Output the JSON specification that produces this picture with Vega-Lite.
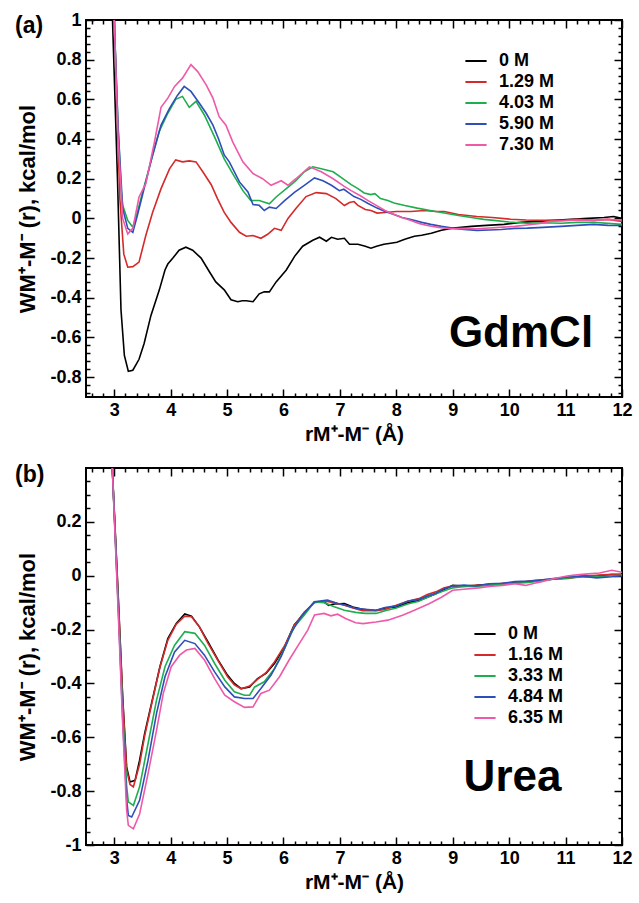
{
  "$schema": "https://vega.github.io/schema/vega-lite/v6.json",
  "background": "white",
  "padding": {"left": 14, "top": 10, "right": 0, "bottom": 0},
  "config": {
    "font": "Liberation Sans",
    "view": {"stroke": "black", "strokeWidth": 2},
    "axis": {"labelFont": "Liberation Sans", "labelFontWeight": "bold", "labelColor": "black", "labelFontSize": 18, "titleFont": "Liberation Sans", "titleFontWeight": "bold", "titleColor": "black", "titleFontSize": 21, "tickColor": "black", "tickWidth": 1.5, "grid": false, "domain": false, "labelFlush": false, "labelOverlap": false},
    "legend": {"orient": "none", "symbolType": "stroke", "symbolStrokeWidth": 2, "symbolSize": 450, "labelFont": "Liberation Sans", "labelFontSize": 18, "labelFontWeight": "bold", "labelColor": "black", "labelOffset": 11, "rowPadding": -1.7, "padding": 0, "title": null}
  },
  "datasets": {
    "a": [
      {"s":"0 M","r":2.92,"w":1.5},{"s":"0 M","r":2.97,"w":1.0},{"s":"0 M","r":3.06,"w":0.18},{"s":"0 M","r":3.12,"w":-0.46},{"s":"0 M","r":3.18,"w":-0.69},{"s":"0 M","r":3.25,"w":-0.77},{"s":"0 M","r":3.33,"w":-0.765},{"s":"0 M","r":3.44,"w":-0.71},{"s":"0 M","r":3.53,"w":-0.63},{"s":"0 M","r":3.65,"w":-0.49},{"s":"0 M","r":3.8,"w":-0.36},{"s":"0 M","r":3.9,"w":-0.26},{"s":"0 M","r":3.95,"w":-0.23},{"s":"0 M","r":4.04,"w":-0.2},{"s":"0 M","r":4.15,"w":-0.16},{"s":"0 M","r":4.27,"w":-0.145},{"s":"0 M","r":4.39,"w":-0.16},{"s":"0 M","r":4.54,"w":-0.2},{"s":"0 M","r":4.69,"w":-0.27},{"s":"0 M","r":4.8,"w":-0.32},{"s":"0 M","r":4.95,"w":-0.36},{"s":"0 M","r":5.07,"w":-0.41},{"s":"0 M","r":5.19,"w":-0.42},{"s":"0 M","r":5.27,"w":-0.415},{"s":"0 M","r":5.34,"w":-0.415},{"s":"0 M","r":5.46,"w":-0.42},{"s":"0 M","r":5.57,"w":-0.38},{"s":"0 M","r":5.66,"w":-0.37},{"s":"0 M","r":5.75,"w":-0.37},{"s":"0 M","r":5.87,"w":-0.32},{"s":"0 M","r":6.05,"w":-0.26},{"s":"0 M","r":6.2,"w":-0.19},{"s":"0 M","r":6.34,"w":-0.14},{"s":"0 M","r":6.52,"w":-0.11},{"s":"0 M","r":6.64,"w":-0.095},{"s":"0 M","r":6.76,"w":-0.115},{"s":"0 M","r":6.85,"w":-0.095},{"s":"0 M","r":6.96,"w":-0.105},{"s":"0 M","r":7.08,"w":-0.1},{"s":"0 M","r":7.17,"w":-0.13},{"s":"0 M","r":7.32,"w":-0.13},{"s":"0 M","r":7.45,"w":-0.14},{"s":"0 M","r":7.55,"w":-0.15},{"s":"0 M","r":7.65,"w":-0.14},{"s":"0 M","r":7.78,"w":-0.13},{"s":"0 M","r":7.9,"w":-0.125},{"s":"0 M","r":8.01,"w":-0.12},{"s":"0 M","r":8.15,"w":-0.105},{"s":"0 M","r":8.32,"w":-0.09},{"s":"0 M","r":8.45,"w":-0.085},{"s":"0 M","r":8.62,"w":-0.075},{"s":"0 M","r":8.8,"w":-0.06},{"s":"0 M","r":8.97,"w":-0.05},{"s":"0 M","r":9.15,"w":-0.045},{"s":"0 M","r":9.33,"w":-0.04},{"s":"0 M","r":9.6,"w":-0.035},{"s":"0 M","r":9.91,"w":-0.03},{"s":"0 M","r":10.2,"w":-0.02},{"s":"0 M","r":10.5,"w":-0.015},{"s":"0 M","r":10.8,"w":-0.01},{"s":"0 M","r":11.1,"w":-0.005},{"s":"0 M","r":11.4,"w":0.0},{"s":"0 M","r":11.68,"w":0.005},{"s":"0 M","r":11.85,"w":0.01},{"s":"0 M","r":12.0,"w":0.0},
      {"s":"1.29 M","r":2.92,"w":1.6},{"s":"1.29 M","r":3.0,"w":1.0},{"s":"1.29 M","r":3.1,"w":0.1},{"s":"1.29 M","r":3.17,"w":-0.18},{"s":"1.29 M","r":3.24,"w":-0.246},{"s":"1.29 M","r":3.33,"w":-0.243},{"s":"1.29 M","r":3.44,"w":-0.22},{"s":"1.29 M","r":3.56,"w":-0.086},{"s":"1.29 M","r":3.68,"w":0.03},{"s":"1.29 M","r":3.83,"w":0.15},{"s":"1.29 M","r":3.98,"w":0.25},{"s":"1.29 M","r":4.09,"w":0.295},{"s":"1.29 M","r":4.21,"w":0.285},{"s":"1.29 M","r":4.33,"w":0.29},{"s":"1.29 M","r":4.45,"w":0.285},{"s":"1.29 M","r":4.57,"w":0.235},{"s":"1.29 M","r":4.72,"w":0.17},{"s":"1.29 M","r":4.83,"w":0.1},{"s":"1.29 M","r":4.95,"w":0.03},{"s":"1.29 M","r":5.07,"w":-0.02},{"s":"1.29 M","r":5.22,"w":-0.07},{"s":"1.29 M","r":5.34,"w":-0.09},{"s":"1.29 M","r":5.46,"w":-0.086},{"s":"1.29 M","r":5.6,"w":-0.1},{"s":"1.29 M","r":5.72,"w":-0.08},{"s":"1.29 M","r":5.84,"w":-0.05},{"s":"1.29 M","r":5.96,"w":-0.06},{"s":"1.29 M","r":6.08,"w":0.0},{"s":"1.29 M","r":6.22,"w":0.05},{"s":"1.29 M","r":6.4,"w":0.11},{"s":"1.29 M","r":6.58,"w":0.13},{"s":"1.29 M","r":6.76,"w":0.125},{"s":"1.29 M","r":6.93,"w":0.1},{"s":"1.29 M","r":7.08,"w":0.065},{"s":"1.29 M","r":7.17,"w":0.08},{"s":"1.29 M","r":7.25,"w":0.085},{"s":"1.29 M","r":7.32,"w":0.066},{"s":"1.29 M","r":7.45,"w":0.045},{"s":"1.29 M","r":7.55,"w":0.04},{"s":"1.29 M","r":7.66,"w":0.027},{"s":"1.29 M","r":7.8,"w":0.03},{"s":"1.29 M","r":8.0,"w":0.035},{"s":"1.29 M","r":8.26,"w":0.035},{"s":"1.29 M","r":8.5,"w":0.04},{"s":"1.29 M","r":8.7,"w":0.035},{"s":"1.29 M","r":8.85,"w":0.035},{"s":"1.29 M","r":9.1,"w":0.02},{"s":"1.29 M","r":9.43,"w":0.01},{"s":"1.29 M","r":9.7,"w":0.005},{"s":"1.29 M","r":10.03,"w":-0.004},{"s":"1.29 M","r":10.3,"w":-0.008},{"s":"1.29 M","r":10.62,"w":-0.01},{"s":"1.29 M","r":10.9,"w":-0.01},{"s":"1.29 M","r":11.2,"w":-0.005},{"s":"1.29 M","r":11.5,"w":-0.01},{"s":"1.29 M","r":11.75,"w":-0.005},{"s":"1.29 M","r":12.0,"w":-0.015},
      {"s":"4.03 M","r":2.92,"w":1.8},{"s":"4.03 M","r":3.0,"w":1.0},{"s":"4.03 M","r":3.06,"w":0.52},{"s":"4.03 M","r":3.12,"w":0.15},{"s":"4.03 M","r":3.15,"w":0.066},{"s":"4.03 M","r":3.24,"w":-0.01},{"s":"4.03 M","r":3.33,"w":-0.044},{"s":"4.03 M","r":3.41,"w":0.03},{"s":"4.03 M","r":3.5,"w":0.13},{"s":"4.03 M","r":3.65,"w":0.285},{"s":"4.03 M","r":3.8,"w":0.44},{"s":"4.03 M","r":3.95,"w":0.53},{"s":"4.03 M","r":4.09,"w":0.6},{"s":"4.03 M","r":4.21,"w":0.615},{"s":"4.03 M","r":4.33,"w":0.56},{"s":"4.03 M","r":4.45,"w":0.59},{"s":"4.03 M","r":4.6,"w":0.52},{"s":"4.03 M","r":4.78,"w":0.41},{"s":"4.03 M","r":4.95,"w":0.3},{"s":"4.03 M","r":5.1,"w":0.226},{"s":"4.03 M","r":5.28,"w":0.14},{"s":"4.03 M","r":5.42,"w":0.09},{"s":"4.03 M","r":5.57,"w":0.09},{"s":"4.03 M","r":5.75,"w":0.074},{"s":"4.03 M","r":5.87,"w":0.108},{"s":"4.03 M","r":6.05,"w":0.15},{"s":"4.03 M","r":6.22,"w":0.19},{"s":"4.03 M","r":6.37,"w":0.235},{"s":"4.03 M","r":6.52,"w":0.26},{"s":"4.03 M","r":6.67,"w":0.25},{"s":"4.03 M","r":6.88,"w":0.235},{"s":"4.03 M","r":7.07,"w":0.197},{"s":"4.03 M","r":7.2,"w":0.17},{"s":"4.03 M","r":7.32,"w":0.15},{"s":"4.03 M","r":7.43,"w":0.128},{"s":"4.03 M","r":7.55,"w":0.12},{"s":"4.03 M","r":7.62,"w":0.125},{"s":"4.03 M","r":7.72,"w":0.1},{"s":"4.03 M","r":7.85,"w":0.09},{"s":"4.03 M","r":7.96,"w":0.078},{"s":"4.03 M","r":8.15,"w":0.065},{"s":"4.03 M","r":8.37,"w":0.052},{"s":"4.03 M","r":8.6,"w":0.04},{"s":"4.03 M","r":8.85,"w":0.027},{"s":"4.03 M","r":9.1,"w":0.015},{"s":"4.03 M","r":9.33,"w":0.005},{"s":"4.03 M","r":9.55,"w":-0.005},{"s":"4.03 M","r":9.73,"w":-0.01},{"s":"4.03 M","r":10.0,"w":-0.018},{"s":"4.03 M","r":10.32,"w":-0.024},{"s":"4.03 M","r":10.6,"w":-0.022},{"s":"4.03 M","r":10.92,"w":-0.024},{"s":"4.03 M","r":11.2,"w":-0.02},{"s":"4.03 M","r":11.5,"w":-0.019},{"s":"4.03 M","r":11.75,"w":-0.025},{"s":"4.03 M","r":12.0,"w":-0.03},
      {"s":"5.90 M","r":2.92,"w":1.8},{"s":"5.90 M","r":3.0,"w":1.0},{"s":"5.90 M","r":3.07,"w":0.45},{"s":"5.90 M","r":3.15,"w":0.05},{"s":"5.90 M","r":3.24,"w":-0.05},{"s":"5.90 M","r":3.33,"w":-0.07},{"s":"5.90 M","r":3.41,"w":0.015},{"s":"5.90 M","r":3.53,"w":0.15},{"s":"5.90 M","r":3.68,"w":0.32},{"s":"5.90 M","r":3.83,"w":0.47},{"s":"5.90 M","r":3.98,"w":0.555},{"s":"5.90 M","r":4.12,"w":0.62},{"s":"5.90 M","r":4.24,"w":0.665},{"s":"5.90 M","r":4.36,"w":0.64},{"s":"5.90 M","r":4.51,"w":0.58},{"s":"5.90 M","r":4.63,"w":0.53},{"s":"5.90 M","r":4.75,"w":0.47},{"s":"5.90 M","r":4.85,"w":0.4},{"s":"5.90 M","r":4.95,"w":0.32},{"s":"5.90 M","r":5.04,"w":0.285},{"s":"5.90 M","r":5.22,"w":0.184},{"s":"5.90 M","r":5.37,"w":0.133},{"s":"5.90 M","r":5.46,"w":0.07},{"s":"5.90 M","r":5.57,"w":0.066},{"s":"5.90 M","r":5.66,"w":0.04},{"s":"5.90 M","r":5.75,"w":0.057},{"s":"5.90 M","r":5.87,"w":0.05},{"s":"5.90 M","r":6.02,"w":0.09},{"s":"5.90 M","r":6.2,"w":0.133},{"s":"5.90 M","r":6.37,"w":0.167},{"s":"5.90 M","r":6.55,"w":0.204},{"s":"5.90 M","r":6.7,"w":0.19},{"s":"5.90 M","r":6.85,"w":0.167},{"s":"5.90 M","r":6.99,"w":0.14},{"s":"5.90 M","r":7.07,"w":0.147},{"s":"5.90 M","r":7.14,"w":0.133},{"s":"5.90 M","r":7.25,"w":0.11},{"s":"5.90 M","r":7.37,"w":0.096},{"s":"5.90 M","r":7.5,"w":0.075},{"s":"5.90 M","r":7.66,"w":0.052},{"s":"5.90 M","r":7.8,"w":0.035},{"s":"5.90 M","r":7.96,"w":0.02},{"s":"5.90 M","r":8.1,"w":0.005},{"s":"5.90 M","r":8.26,"w":-0.005},{"s":"5.90 M","r":8.45,"w":-0.02},{"s":"5.90 M","r":8.61,"w":-0.03},{"s":"5.90 M","r":8.8,"w":-0.04},{"s":"5.90 M","r":9.02,"w":-0.05},{"s":"5.90 M","r":9.2,"w":-0.055},{"s":"5.90 M","r":9.43,"w":-0.06},{"s":"5.90 M","r":9.65,"w":-0.058},{"s":"5.90 M","r":9.86,"w":-0.056},{"s":"5.90 M","r":10.1,"w":-0.05},{"s":"5.90 M","r":10.32,"w":-0.049},{"s":"5.90 M","r":10.6,"w":-0.045},{"s":"5.90 M","r":10.92,"w":-0.04},{"s":"5.90 M","r":11.2,"w":-0.035},{"s":"5.90 M","r":11.5,"w":-0.03},{"s":"5.90 M","r":11.75,"w":-0.035},{"s":"5.90 M","r":12.0,"w":-0.036},
      {"s":"7.30 M","r":2.92,"w":1.8},{"s":"7.30 M","r":3.0,"w":1.0},{"s":"7.30 M","r":3.07,"w":0.4},{"s":"7.30 M","r":3.15,"w":0.0},{"s":"7.30 M","r":3.24,"w":-0.078},{"s":"7.30 M","r":3.33,"w":-0.05},{"s":"7.30 M","r":3.44,"w":0.108},{"s":"7.30 M","r":3.56,"w":0.175},{"s":"7.30 M","r":3.71,"w":0.38},{"s":"7.30 M","r":3.83,"w":0.56},{"s":"7.30 M","r":3.95,"w":0.606},{"s":"7.30 M","r":4.07,"w":0.665},{"s":"7.30 M","r":4.21,"w":0.707},{"s":"7.30 M","r":4.36,"w":0.775},{"s":"7.30 M","r":4.48,"w":0.74},{"s":"7.30 M","r":4.63,"w":0.673},{"s":"7.30 M","r":4.75,"w":0.606},{"s":"7.30 M","r":4.86,"w":0.513},{"s":"7.30 M","r":4.98,"w":0.47},{"s":"7.30 M","r":5.1,"w":0.386},{"s":"7.30 M","r":5.28,"w":0.285},{"s":"7.30 M","r":5.46,"w":0.226},{"s":"7.30 M","r":5.63,"w":0.2},{"s":"7.30 M","r":5.78,"w":0.167},{"s":"7.30 M","r":5.96,"w":0.19},{"s":"7.30 M","r":6.08,"w":0.167},{"s":"7.30 M","r":6.22,"w":0.2},{"s":"7.30 M","r":6.46,"w":0.26},{"s":"7.30 M","r":6.67,"w":0.235},{"s":"7.30 M","r":6.88,"w":0.2},{"s":"7.30 M","r":7.07,"w":0.163},{"s":"7.30 M","r":7.2,"w":0.14},{"s":"7.30 M","r":7.37,"w":0.113},{"s":"7.30 M","r":7.5,"w":0.09},{"s":"7.30 M","r":7.66,"w":0.063},{"s":"7.30 M","r":7.8,"w":0.04},{"s":"7.30 M","r":7.96,"w":0.02},{"s":"7.30 M","r":8.1,"w":0.005},{"s":"7.30 M","r":8.26,"w":-0.01},{"s":"7.30 M","r":8.4,"w":-0.025},{"s":"7.30 M","r":8.55,"w":-0.036},{"s":"7.30 M","r":8.75,"w":-0.045},{"s":"7.30 M","r":8.96,"w":-0.052},{"s":"7.30 M","r":9.2,"w":-0.05},{"s":"7.30 M","r":9.43,"w":-0.052},{"s":"7.30 M","r":9.65,"w":-0.048},{"s":"7.30 M","r":9.9,"w":-0.044},{"s":"7.30 M","r":10.1,"w":-0.04},{"s":"7.30 M","r":10.32,"w":-0.033},{"s":"7.30 M","r":10.55,"w":-0.025},{"s":"7.30 M","r":10.74,"w":-0.014},{"s":"7.30 M","r":11.0,"w":-0.012},{"s":"7.30 M","r":11.2,"w":-0.008},{"s":"7.30 M","r":11.5,"w":-0.01},{"s":"7.30 M","r":11.75,"w":-0.005},{"s":"7.30 M","r":12.0,"w":-0.008}
    ],
    "b": [
      {"s":"0 M","r":2.94,"w":0.6},{"s":"0 M","r":2.965,"w":0.405},{"s":"0 M","r":3.07,"w":-0.07},{"s":"0 M","r":3.15,"w":-0.45},{"s":"0 M","r":3.22,"w":-0.71},{"s":"0 M","r":3.28,"w":-0.766},{"s":"0 M","r":3.37,"w":-0.76},{"s":"0 M","r":3.45,"w":-0.685},{"s":"0 M","r":3.54,"w":-0.586},{"s":"0 M","r":3.66,"w":-0.475},{"s":"0 M","r":3.81,"w":-0.338},{"s":"0 M","r":3.95,"w":-0.233},{"s":"0 M","r":4.1,"w":-0.177},{"s":"0 M","r":4.25,"w":-0.142},{"s":"0 M","r":4.37,"w":-0.15},{"s":"0 M","r":4.51,"w":-0.19},{"s":"0 M","r":4.66,"w":-0.245},{"s":"0 M","r":4.84,"w":-0.313},{"s":"0 M","r":5.01,"w":-0.37},{"s":"0 M","r":5.13,"w":-0.4},{"s":"0 M","r":5.25,"w":-0.419},{"s":"0 M","r":5.4,"w":-0.413},{"s":"0 M","r":5.54,"w":-0.382},{"s":"0 M","r":5.69,"w":-0.363},{"s":"0 M","r":5.84,"w":-0.326},{"s":"0 M","r":6.02,"w":-0.264},{"s":"0 M","r":6.19,"w":-0.183},{"s":"0 M","r":6.37,"w":-0.14},{"s":"0 M","r":6.55,"w":-0.097},{"s":"0 M","r":6.72,"w":-0.097},{"s":"0 M","r":6.8,"w":-0.11},{"s":"0 M","r":6.9,"w":-0.105},{"s":"0 M","r":7.08,"w":-0.103},{"s":"0 M","r":7.23,"w":-0.116},{"s":"0 M","r":7.4,"w":-0.125},{"s":"0 M","r":7.64,"w":-0.129},{"s":"0 M","r":7.8,"w":-0.12},{"s":"0 M","r":8.0,"w":-0.116},{"s":"0 M","r":8.2,"w":-0.1},{"s":"0 M","r":8.4,"w":-0.092},{"s":"0 M","r":8.55,"w":-0.08},{"s":"0 M","r":8.7,"w":-0.067},{"s":"0 M","r":8.85,"w":-0.05},{"s":"0 M","r":9.0,"w":-0.036},{"s":"0 M","r":9.2,"w":-0.038},{"s":"0 M","r":9.41,"w":-0.036},{"s":"0 M","r":9.65,"w":-0.032},{"s":"0 M","r":9.88,"w":-0.03},{"s":"0 M","r":10.1,"w":-0.025},{"s":"0 M","r":10.35,"w":-0.022},{"s":"0 M","r":10.6,"w":-0.018},{"s":"0 M","r":10.82,"w":-0.011},{"s":"0 M","r":11.05,"w":-0.008},{"s":"0 M","r":11.29,"w":-0.001},{"s":"0 M","r":11.55,"w":0.0},{"s":"0 M","r":11.82,"w":0.004},{"s":"0 M","r":12.0,"w":0.005},
      {"s":"1.16 M","r":2.94,"w":0.6},{"s":"1.16 M","r":2.965,"w":0.405},{"s":"1.16 M","r":3.07,"w":-0.08},{"s":"1.16 M","r":3.15,"w":-0.46},{"s":"1.16 M","r":3.22,"w":-0.72},{"s":"1.16 M","r":3.28,"w":-0.775},{"s":"1.16 M","r":3.34,"w":-0.784},{"s":"1.16 M","r":3.45,"w":-0.7},{"s":"1.16 M","r":3.54,"w":-0.595},{"s":"1.16 M","r":3.66,"w":-0.48},{"s":"1.16 M","r":3.81,"w":-0.34},{"s":"1.16 M","r":3.95,"w":-0.24},{"s":"1.16 M","r":4.1,"w":-0.18},{"s":"1.16 M","r":4.25,"w":-0.15},{"s":"1.16 M","r":4.37,"w":-0.152},{"s":"1.16 M","r":4.51,"w":-0.19},{"s":"1.16 M","r":4.66,"w":-0.25},{"s":"1.16 M","r":4.84,"w":-0.315},{"s":"1.16 M","r":5.01,"w":-0.375},{"s":"1.16 M","r":5.13,"w":-0.405},{"s":"1.16 M","r":5.25,"w":-0.42},{"s":"1.16 M","r":5.4,"w":-0.41},{"s":"1.16 M","r":5.54,"w":-0.385},{"s":"1.16 M","r":5.69,"w":-0.36},{"s":"1.16 M","r":5.84,"w":-0.32},{"s":"1.16 M","r":6.02,"w":-0.26},{"s":"1.16 M","r":6.19,"w":-0.185},{"s":"1.16 M","r":6.37,"w":-0.135},{"s":"1.16 M","r":6.55,"w":-0.1},{"s":"1.16 M","r":6.72,"w":-0.094},{"s":"1.16 M","r":6.9,"w":-0.1},{"s":"1.16 M","r":7.08,"w":-0.11},{"s":"1.16 M","r":7.23,"w":-0.12},{"s":"1.16 M","r":7.4,"w":-0.13},{"s":"1.16 M","r":7.64,"w":-0.13},{"s":"1.16 M","r":7.8,"w":-0.125},{"s":"1.16 M","r":8.0,"w":-0.11},{"s":"1.16 M","r":8.2,"w":-0.095},{"s":"1.16 M","r":8.4,"w":-0.085},{"s":"1.16 M","r":8.55,"w":-0.07},{"s":"1.16 M","r":8.7,"w":-0.06},{"s":"1.16 M","r":8.85,"w":-0.045},{"s":"1.16 M","r":9.0,"w":-0.038},{"s":"1.16 M","r":9.2,"w":-0.04},{"s":"1.16 M","r":9.41,"w":-0.036},{"s":"1.16 M","r":9.65,"w":-0.035},{"s":"1.16 M","r":9.88,"w":-0.028},{"s":"1.16 M","r":10.1,"w":-0.028},{"s":"1.16 M","r":10.35,"w":-0.02},{"s":"1.16 M","r":10.6,"w":-0.015},{"s":"1.16 M","r":10.82,"w":-0.012},{"s":"1.16 M","r":11.05,"w":-0.01},{"s":"1.16 M","r":11.29,"w":-0.002},{"s":"1.16 M","r":11.55,"w":0.002},{"s":"1.16 M","r":11.82,"w":0.005},{"s":"1.16 M","r":12.0,"w":0.003},
      {"s":"3.33 M","r":2.94,"w":0.6},{"s":"3.33 M","r":2.965,"w":0.405},{"s":"3.33 M","r":3.07,"w":-0.1},{"s":"3.33 M","r":3.15,"w":-0.5},{"s":"3.33 M","r":3.22,"w":-0.78},{"s":"3.33 M","r":3.25,"w":-0.84},{"s":"3.33 M","r":3.34,"w":-0.853},{"s":"3.33 M","r":3.45,"w":-0.784},{"s":"3.33 M","r":3.6,"w":-0.623},{"s":"3.33 M","r":3.75,"w":-0.462},{"s":"3.33 M","r":3.9,"w":-0.338},{"s":"3.33 M","r":4.07,"w":-0.258},{"s":"3.33 M","r":4.25,"w":-0.208},{"s":"3.33 M","r":4.43,"w":-0.214},{"s":"3.33 M","r":4.6,"w":-0.258},{"s":"3.33 M","r":4.78,"w":-0.326},{"s":"3.33 M","r":4.96,"w":-0.388},{"s":"3.33 M","r":5.13,"w":-0.431},{"s":"3.33 M","r":5.31,"w":-0.444},{"s":"3.33 M","r":5.4,"w":-0.444},{"s":"3.33 M","r":5.49,"w":-0.413},{"s":"3.33 M","r":5.66,"w":-0.394},{"s":"3.33 M","r":5.84,"w":-0.345},{"s":"3.33 M","r":6.02,"w":-0.27},{"s":"3.33 M","r":6.19,"w":-0.19},{"s":"3.33 M","r":6.37,"w":-0.146},{"s":"3.33 M","r":6.55,"w":-0.097},{"s":"3.33 M","r":6.72,"w":-0.1},{"s":"3.33 M","r":6.9,"w":-0.115},{"s":"3.33 M","r":7.08,"w":-0.128},{"s":"3.33 M","r":7.28,"w":-0.136},{"s":"3.33 M","r":7.45,"w":-0.14},{"s":"3.33 M","r":7.64,"w":-0.14},{"s":"3.33 M","r":7.8,"w":-0.13},{"s":"3.33 M","r":8.0,"w":-0.12},{"s":"3.33 M","r":8.2,"w":-0.105},{"s":"3.33 M","r":8.4,"w":-0.095},{"s":"3.33 M","r":8.6,"w":-0.075},{"s":"3.33 M","r":8.8,"w":-0.06},{"s":"3.33 M","r":9.0,"w":-0.045},{"s":"3.33 M","r":9.2,"w":-0.04},{"s":"3.33 M","r":9.41,"w":-0.04},{"s":"3.33 M","r":9.65,"w":-0.035},{"s":"3.33 M","r":9.88,"w":-0.032},{"s":"3.33 M","r":10.1,"w":-0.028},{"s":"3.33 M","r":10.35,"w":-0.025},{"s":"3.33 M","r":10.6,"w":-0.018},{"s":"3.33 M","r":10.82,"w":-0.012},{"s":"3.33 M","r":11.05,"w":-0.008},{"s":"3.33 M","r":11.29,"w":-0.005},{"s":"3.33 M","r":11.55,"w":-0.005},{"s":"3.33 M","r":11.82,"w":0.0},{"s":"3.33 M","r":12.0,"w":0.002},
      {"s":"4.84 M","r":2.94,"w":0.6},{"s":"4.84 M","r":2.965,"w":0.405},{"s":"4.84 M","r":3.07,"w":-0.11},{"s":"4.84 M","r":3.15,"w":-0.53},{"s":"4.84 M","r":3.22,"w":-0.83},{"s":"4.84 M","r":3.25,"w":-0.89},{"s":"4.84 M","r":3.31,"w":-0.896},{"s":"4.84 M","r":3.45,"w":-0.834},{"s":"4.84 M","r":3.6,"w":-0.685},{"s":"4.84 M","r":3.75,"w":-0.511},{"s":"4.84 M","r":3.9,"w":-0.375},{"s":"4.84 M","r":4.07,"w":-0.283},{"s":"4.84 M","r":4.25,"w":-0.24},{"s":"4.84 M","r":4.43,"w":-0.252},{"s":"4.84 M","r":4.6,"w":-0.295},{"s":"4.84 M","r":4.78,"w":-0.357},{"s":"4.84 M","r":4.96,"w":-0.413},{"s":"4.84 M","r":5.13,"w":-0.45},{"s":"4.84 M","r":5.31,"w":-0.456},{"s":"4.84 M","r":5.46,"w":-0.456},{"s":"4.84 M","r":5.6,"w":-0.419},{"s":"4.84 M","r":5.78,"w":-0.369},{"s":"4.84 M","r":5.96,"w":-0.3},{"s":"4.84 M","r":6.13,"w":-0.214},{"s":"4.84 M","r":6.31,"w":-0.152},{"s":"4.84 M","r":6.55,"w":-0.097},{"s":"4.84 M","r":6.78,"w":-0.09},{"s":"4.84 M","r":6.96,"w":-0.103},{"s":"4.84 M","r":7.1,"w":-0.11},{"s":"4.84 M","r":7.28,"w":-0.121},{"s":"4.84 M","r":7.45,"w":-0.125},{"s":"4.84 M","r":7.64,"w":-0.128},{"s":"4.84 M","r":7.8,"w":-0.118},{"s":"4.84 M","r":8.0,"w":-0.112},{"s":"4.84 M","r":8.2,"w":-0.095},{"s":"4.84 M","r":8.4,"w":-0.088},{"s":"4.84 M","r":8.55,"w":-0.075},{"s":"4.84 M","r":8.7,"w":-0.065},{"s":"4.84 M","r":8.85,"w":-0.048},{"s":"4.84 M","r":9.0,"w":-0.038},{"s":"4.84 M","r":9.2,"w":-0.035},{"s":"4.84 M","r":9.41,"w":-0.038},{"s":"4.84 M","r":9.65,"w":-0.03},{"s":"4.84 M","r":9.88,"w":-0.028},{"s":"4.84 M","r":10.1,"w":-0.022},{"s":"4.84 M","r":10.35,"w":-0.02},{"s":"4.84 M","r":10.6,"w":-0.015},{"s":"4.84 M","r":10.82,"w":-0.01},{"s":"4.84 M","r":11.05,"w":-0.005},{"s":"4.84 M","r":11.29,"w":-0.002},{"s":"4.84 M","r":11.55,"w":-0.008},{"s":"4.84 M","r":11.82,"w":-0.004},{"s":"4.84 M","r":12.0,"w":0.0},
      {"s":"6.35 M","r":2.94,"w":0.6},{"s":"6.35 M","r":2.965,"w":0.405},{"s":"6.35 M","r":3.07,"w":-0.13},{"s":"6.35 M","r":3.15,"w":-0.55},{"s":"6.35 M","r":3.22,"w":-0.87},{"s":"6.35 M","r":3.25,"w":-0.927},{"s":"6.35 M","r":3.34,"w":-0.94},{"s":"6.35 M","r":3.45,"w":-0.885},{"s":"6.35 M","r":3.6,"w":-0.735},{"s":"6.35 M","r":3.75,"w":-0.574},{"s":"6.35 M","r":3.87,"w":-0.437},{"s":"6.35 M","r":4.01,"w":-0.338},{"s":"6.35 M","r":4.16,"w":-0.295},{"s":"6.35 M","r":4.28,"w":-0.276},{"s":"6.35 M","r":4.43,"w":-0.27},{"s":"6.35 M","r":4.6,"w":-0.313},{"s":"6.35 M","r":4.78,"w":-0.382},{"s":"6.35 M","r":4.96,"w":-0.444},{"s":"6.35 M","r":5.13,"w":-0.468},{"s":"6.35 M","r":5.31,"w":-0.489},{"s":"6.35 M","r":5.46,"w":-0.487},{"s":"6.35 M","r":5.6,"w":-0.437},{"s":"6.35 M","r":5.75,"w":-0.425},{"s":"6.35 M","r":5.93,"w":-0.375},{"s":"6.35 M","r":6.1,"w":-0.313},{"s":"6.35 M","r":6.28,"w":-0.252},{"s":"6.35 M","r":6.43,"w":-0.202},{"s":"6.35 M","r":6.55,"w":-0.146},{"s":"6.35 M","r":6.72,"w":-0.14},{"s":"6.35 M","r":6.84,"w":-0.149},{"s":"6.35 M","r":6.96,"w":-0.143},{"s":"6.35 M","r":7.1,"w":-0.159},{"s":"6.35 M","r":7.28,"w":-0.175},{"s":"6.35 M","r":7.41,"w":-0.178},{"s":"6.35 M","r":7.64,"w":-0.172},{"s":"6.35 M","r":7.85,"w":-0.165},{"s":"6.35 M","r":8.11,"w":-0.147},{"s":"6.35 M","r":8.3,"w":-0.13},{"s":"6.35 M","r":8.58,"w":-0.104},{"s":"6.35 M","r":8.8,"w":-0.08},{"s":"6.35 M","r":9.0,"w":-0.054},{"s":"6.35 M","r":9.2,"w":-0.05},{"s":"6.35 M","r":9.46,"w":-0.045},{"s":"6.35 M","r":9.65,"w":-0.04},{"s":"6.35 M","r":9.88,"w":-0.036},{"s":"6.35 M","r":10.1,"w":-0.03},{"s":"6.35 M","r":10.29,"w":-0.036},{"s":"6.35 M","r":10.45,"w":-0.028},{"s":"6.35 M","r":10.58,"w":-0.022},{"s":"6.35 M","r":10.8,"w":-0.01},{"s":"6.35 M","r":11.05,"w":0.0},{"s":"6.35 M","r":11.2,"w":0.003},{"s":"6.35 M","r":11.4,"w":0.007},{"s":"6.35 M","r":11.6,"w":0.01},{"s":"6.35 M","r":11.82,"w":0.02},{"s":"6.35 M","r":12.0,"w":0.013}
    ]
  },
  "vconcat": [
    {
      "width": 536, "height": 377,
      "title": {"text": "(a)", "anchor": "start", "frame": "group", "orient": "top", "offset": 0, "baseline": "alphabetic", "dx": -71, "dy": 45, "fontSize": 23, "fontWeight": "bold", "font": "Liberation Sans", "color": "black"},
      "resolve": {"axis": {"x": "independent", "y": "independent"}},
      "layer": [
        {
          "data": {"name": "a"},
          "mark": {"type": "line", "clip": true, "strokeWidth": 1.6},
          "encoding": {
            "x": {"field": "r", "type": "quantitative", "scale": {"domain": [2.5, 12], "nice": false, "zero": false},
              "axis": {"orient": "bottom", "values": [3,4,5,6,7,8,9,10,11,12], "ticks": false, "labelPadding": 4, "labelExpr": "'' + datum.value", "title": "rM⁺-M⁻ (Å)", "titlePadding": 4}},
            "y": {"field": "w", "type": "quantitative", "scale": {"domain": [-0.9, 1], "nice": false, "zero": false},
              "axis": {"orient": "left", "values": [-0.8,-0.6,-0.4,-0.2,0,0.2,0.4,0.6,0.8,1], "ticks": false, "labelPadding": 5, "labelExpr": "'' + datum.value", "title": "WM⁺-M⁻ (r), kcal/mol", "titlePadding": 10, "titleFontSize": 22}},
            "color": {"field": "s", "type": "nominal",
              "scale": {"domain": ["0 M","1.29 M","4.03 M","5.90 M","7.30 M"], "range": ["#000000","#d42a2a","#1fae4f","#2f4fb8","#ee5aa8"]},
              "legend": {"legendX": 378, "legendY": 29}}
          }
        },
        {
          "data": {"values": [{}]},
          "mark": {"type": "point", "opacity": 0},
          "encoding": {
            "x": {"datum": 3, "type": "quantitative", "scale": {"domain": [2.5, 12], "nice": false, "zero": false},
              "axis": {"orient": "top", "offset": -377, "values": [3,4,5,6,7,8,9,10,11,12], "tickSize": 8, "labels": false, "title": null}},
            "y": {"datum": 0, "type": "quantitative", "scale": {"domain": [-0.9, 1], "nice": false, "zero": false},
              "axis": {"orient": "right", "offset": -536, "values": [-0.8,-0.6,-0.4,-0.2,0,0.2,0.4,0.6,0.8,1], "tickSize": 8, "labels": false, "title": null}}
          }
        },
        {
          "data": {"values": [{}]},
          "mark": {"type": "point", "opacity": 0},
          "encoding": {
            "x": {"datum": 3, "type": "quantitative", "scale": {"domain": [2.5, 12], "nice": false, "zero": false},
              "axis": {"orient": "top", "offset": -377, "values": [2.6,2.8,3.2,3.4,3.6,3.8,4.2,4.4,4.6,4.8,5.2,5.4,5.6,5.8,6.2,6.4,6.6,6.8,7.2,7.4,7.6,7.8,8.2,8.4,8.6,8.8,9.2,9.4,9.6,9.8,10.2,10.4,10.6,10.8,11.2,11.4,11.6,11.8], "tickSize": 4, "labels": false, "title": null}},
            "y": {"datum": 0, "type": "quantitative", "scale": {"domain": [-0.9, 1], "nice": false, "zero": false},
              "axis": {"orient": "right", "offset": -536, "values": [-0.88,-0.84,-0.76,-0.72,-0.68,-0.64,-0.56,-0.52,-0.48,-0.44,-0.36,-0.32,-0.28,-0.24,-0.16,-0.12,-0.08,-0.04,0.04,0.08,0.12,0.16,0.24,0.28,0.32,0.36,0.44,0.48,0.52,0.56,0.64,0.68,0.72,0.76,0.84,0.88,0.92,0.96], "tickSize": 4, "labels": false, "title": null}}
          }
        },
        {
          "data": {"values": [{}]},
          "mark": {"type": "point", "opacity": 0},
          "encoding": {
            "x": {"datum": 3, "type": "quantitative", "scale": {"domain": [2.5, 12], "nice": false, "zero": false},
              "axis": {"orient": "bottom", "offset": -377, "values": [3,4,5,6,7,8,9,10,11,12], "tickSize": 8, "labels": false, "title": null}},
            "y": {"datum": 0, "type": "quantitative", "scale": {"domain": [-0.9, 1], "nice": false, "zero": false},
              "axis": {"orient": "left", "offset": -536, "values": [-0.8,-0.6,-0.4,-0.2,0,0.2,0.4,0.6,0.8,1], "tickSize": 8, "labels": false, "title": null}}
          }
        },
        {
          "data": {"values": [{}]},
          "mark": {"type": "point", "opacity": 0},
          "encoding": {
            "x": {"datum": 3, "type": "quantitative", "scale": {"domain": [2.5, 12], "nice": false, "zero": false},
              "axis": {"orient": "bottom", "offset": -377, "values": [2.6,2.8,3.2,3.4,3.6,3.8,4.2,4.4,4.6,4.8,5.2,5.4,5.6,5.8,6.2,6.4,6.6,6.8,7.2,7.4,7.6,7.8,8.2,8.4,8.6,8.8,9.2,9.4,9.6,9.8,10.2,10.4,10.6,10.8,11.2,11.4,11.6,11.8], "tickSize": 4, "labels": false, "title": null}},
            "y": {"datum": 0, "type": "quantitative", "scale": {"domain": [-0.9, 1], "nice": false, "zero": false},
              "axis": {"orient": "left", "offset": -536, "values": [-0.88,-0.84,-0.76,-0.72,-0.68,-0.64,-0.56,-0.52,-0.48,-0.44,-0.36,-0.32,-0.28,-0.24,-0.16,-0.12,-0.08,-0.04,0.04,0.08,0.12,0.16,0.24,0.28,0.32,0.36,0.44,0.48,0.52,0.56,0.64,0.68,0.72,0.76,0.84,0.88,0.92,0.96], "tickSize": 4, "labels": false, "title": null}}
          }
        },
        {
          "data": {"values": [{"label": "GdmCl"}]},
          "mark": {"type": "text", "fontSize": 44, "fontWeight": "bold", "font": "Liberation Sans", "align": "center", "baseline": "alphabetic", "color": "black"},
          "encoding": {
            "x": {"datum": 10.21, "type": "quantitative", "scale": {"domain": [2.5, 12], "nice": false, "zero": false}, "axis": null},
            "y": {"datum": -0.648, "type": "quantitative", "scale": {"domain": [-0.9, 1], "nice": false, "zero": false}, "axis": null},
            "text": {"field": "label"}
          }
        }
      ]
    },
    {
      "width": 536, "height": 377,
      "title": {"text": "(b)", "anchor": "start", "frame": "group", "orient": "top", "offset": 0, "baseline": "alphabetic", "dx": -71, "dy": 38, "fontSize": 23, "fontWeight": "bold", "font": "Liberation Sans", "color": "black"},
      "resolve": {"axis": {"x": "independent", "y": "independent"}},
      "layer": [
        {
          "data": {"name": "b"},
          "mark": {"type": "line", "clip": true, "strokeWidth": 1.6},
          "encoding": {
            "x": {"field": "r", "type": "quantitative", "scale": {"domain": [2.5, 12], "nice": false, "zero": false},
              "axis": {"orient": "bottom", "values": [3,4,5,6,7,8,9,10,11,12], "ticks": false, "labelPadding": 4, "labelExpr": "'' + datum.value", "title": "rM⁺-M⁻ (Å)", "titlePadding": 4}},
            "y": {"field": "w", "type": "quantitative", "scale": {"domain": [-1, 0.4], "nice": false, "zero": false},
              "axis": {"orient": "left", "values": [-1,-0.8,-0.6,-0.4,-0.2,0,0.2], "ticks": false, "labelPadding": 5, "labelExpr": "'' + datum.value", "title": "WM⁺-M⁻ (r), kcal/mol", "titlePadding": 10, "titleFontSize": 22}},
            "color": {"field": "s", "type": "nominal",
              "scale": {"domain": ["0 M","1.16 M","3.33 M","4.84 M","6.35 M"], "range": ["#000000","#d42a2a","#1fae4f","#2f4fb8","#ee5aa8"]},
              "legend": {"legendX": 387, "legendY": 154}}
          }
        },
        {
          "data": {"values": [{}]},
          "mark": {"type": "point", "opacity": 0},
          "encoding": {
            "x": {"datum": 3, "type": "quantitative", "scale": {"domain": [2.5, 12], "nice": false, "zero": false},
              "axis": {"orient": "top", "offset": -377, "values": [3,4,5,6,7,8,9,10,11,12], "tickSize": 8, "labels": false, "title": null}},
            "y": {"datum": 0, "type": "quantitative", "scale": {"domain": [-1, 0.4], "nice": false, "zero": false},
              "axis": {"orient": "right", "offset": -536, "values": [-1,-0.8,-0.6,-0.4,-0.2,0,0.2], "tickSize": 8, "labels": false, "title": null}}
          }
        },
        {
          "data": {"values": [{}]},
          "mark": {"type": "point", "opacity": 0},
          "encoding": {
            "x": {"datum": 3, "type": "quantitative", "scale": {"domain": [2.5, 12], "nice": false, "zero": false},
              "axis": {"orient": "top", "offset": -377, "values": [2.6,2.8,3.2,3.4,3.6,3.8,4.2,4.4,4.6,4.8,5.2,5.4,5.6,5.8,6.2,6.4,6.6,6.8,7.2,7.4,7.6,7.8,8.2,8.4,8.6,8.8,9.2,9.4,9.6,9.8,10.2,10.4,10.6,10.8,11.2,11.4,11.6,11.8], "tickSize": 4, "labels": false, "title": null}},
            "y": {"datum": 0, "type": "quantitative", "scale": {"domain": [-1, 0.4], "nice": false, "zero": false},
              "axis": {"orient": "right", "offset": -536, "values": [-0.95,-0.9,-0.85,-0.75,-0.7,-0.65,-0.55,-0.5,-0.45,-0.35,-0.3,-0.25,-0.15,-0.1,-0.05,0.05,0.1,0.15,0.25,0.3,0.35], "tickSize": 4, "labels": false, "title": null}}
          }
        },
        {
          "data": {"values": [{}]},
          "mark": {"type": "point", "opacity": 0},
          "encoding": {
            "x": {"datum": 3, "type": "quantitative", "scale": {"domain": [2.5, 12], "nice": false, "zero": false},
              "axis": {"orient": "bottom", "offset": -377, "values": [3,4,5,6,7,8,9,10,11,12], "tickSize": 8, "labels": false, "title": null}},
            "y": {"datum": 0, "type": "quantitative", "scale": {"domain": [-1, 0.4], "nice": false, "zero": false},
              "axis": {"orient": "left", "offset": -536, "values": [-1,-0.8,-0.6,-0.4,-0.2,0,0.2], "tickSize": 8, "labels": false, "title": null}}
          }
        },
        {
          "data": {"values": [{}]},
          "mark": {"type": "point", "opacity": 0},
          "encoding": {
            "x": {"datum": 3, "type": "quantitative", "scale": {"domain": [2.5, 12], "nice": false, "zero": false},
              "axis": {"orient": "bottom", "offset": -377, "values": [2.6,2.8,3.2,3.4,3.6,3.8,4.2,4.4,4.6,4.8,5.2,5.4,5.6,5.8,6.2,6.4,6.6,6.8,7.2,7.4,7.6,7.8,8.2,8.4,8.6,8.8,9.2,9.4,9.6,9.8,10.2,10.4,10.6,10.8,11.2,11.4,11.6,11.8], "tickSize": 4, "labels": false, "title": null}},
            "y": {"datum": 0, "type": "quantitative", "scale": {"domain": [-1, 0.4], "nice": false, "zero": false},
              "axis": {"orient": "left", "offset": -536, "values": [-0.95,-0.9,-0.85,-0.75,-0.7,-0.65,-0.55,-0.5,-0.45,-0.35,-0.3,-0.25,-0.15,-0.1,-0.05,0.05,0.1,0.15,0.25,0.3,0.35], "tickSize": 4, "labels": false, "title": null}}
          }
        },
        {
          "data": {"values": [{"label": "Urea"}]},
          "mark": {"type": "text", "fontSize": 44, "fontWeight": "bold", "font": "Liberation Sans", "align": "center", "baseline": "alphabetic", "color": "black"},
          "encoding": {
            "x": {"datum": 10.06, "type": "quantitative", "scale": {"domain": [2.5, 12], "nice": false, "zero": false}, "axis": null},
            "y": {"datum": -0.8, "type": "quantitative", "scale": {"domain": [-1, 0.4], "nice": false, "zero": false}, "axis": null},
            "text": {"field": "label"}
          }
        }
      ]
    }
  ],
  "spacing": 71,
  "bounds": "flush",
  "resolve": {"scale": {"color": "independent"}}
}
